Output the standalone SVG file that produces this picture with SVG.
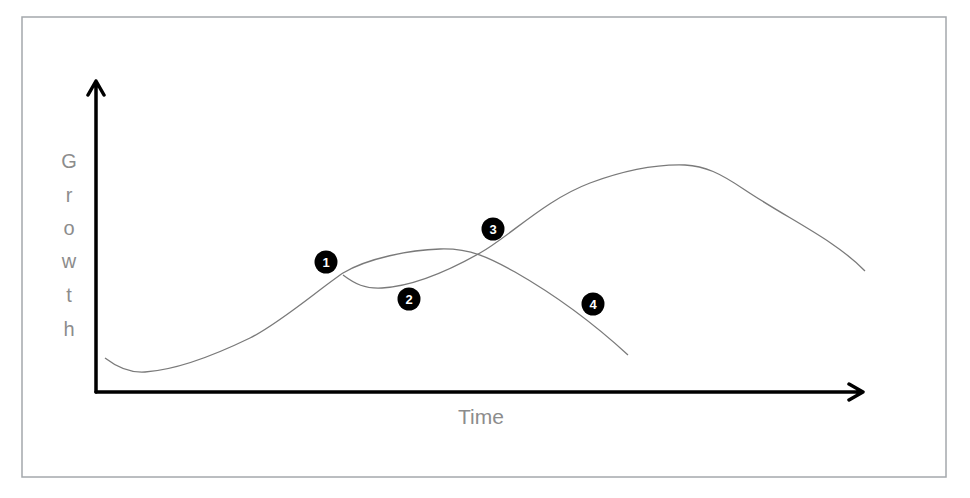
<svg xmlns="http://www.w3.org/2000/svg" width="970" height="498" viewBox="0 0 970 498">
<style>
.frame{fill:#fff;stroke:#a4a8ac;stroke-width:1.5}
.axis{fill:none;stroke:#000;stroke-width:3.5;stroke-linecap:round;stroke-linejoin:round}
.curve{fill:none;stroke:#7a7a7a;stroke-width:1.3}
.lbl{font-family:"Liberation Sans",Arial,sans-serif;fill:#8c8c8c;text-anchor:middle}
.badge circle{fill:#000}
.badge text{font-family:"Liberation Sans",Arial,sans-serif;font-weight:bold;font-size:13px;fill:#fff;text-anchor:middle}
</style>
<rect width="970" height="498" fill="#fff"/>
<rect class="frame" x="22" y="17" width="924" height="460"/>
<g id="axes">
<path class="axis" d="M96,392 V81 M88,95 L96,81 L104,95"/>
<path class="axis" d="M96,392 H863 M849,384 L863,392 L849,400"/>
</g>
<g id="labels">
<g class="lbl" font-size="20">
<text x="69" y="168">G</text>
<text x="69" y="202">r</text>
<text x="69" y="235">o</text>
<text x="69" y="268">w</text>
<text x="69" y="302">t</text>
<text x="69" y="336">h</text>
</g>
<text class="lbl" x="481" y="424" font-size="21">Time</text>
</g>
<g id="connectors">
<path class="curve" d="M105,358 C118,368 130,373 145,372 C175,370 215,355 250,338 C280,323 318,290 343,273 C368,258 410,250 440,249 C470,248 490,258 515,272 C550,292 590,320 628,355"/>
<path class="curve" d="M343,275 C355,284 365,289 382,288 C415,286 450,270 480,253 C510,236 545,200 590,183 C625,170 655,164 685,165 C705,166 720,173 745,190 C790,220 835,240 865,271"/>
</g>
<g id="badge1" class="badge"><circle cx="326" cy="262" r="11.5"/><text x="326" y="267">1</text></g>
<g id="badge2" class="badge"><circle cx="409" cy="299" r="11.5"/><text x="409" y="304">2</text></g>
<g id="badge3" class="badge"><circle cx="493" cy="229" r="11.5"/><text x="493" y="234">3</text></g>
<g id="badge4" class="badge"><circle cx="593" cy="304" r="11.5"/><text x="593" y="309">4</text></g>
</svg>
